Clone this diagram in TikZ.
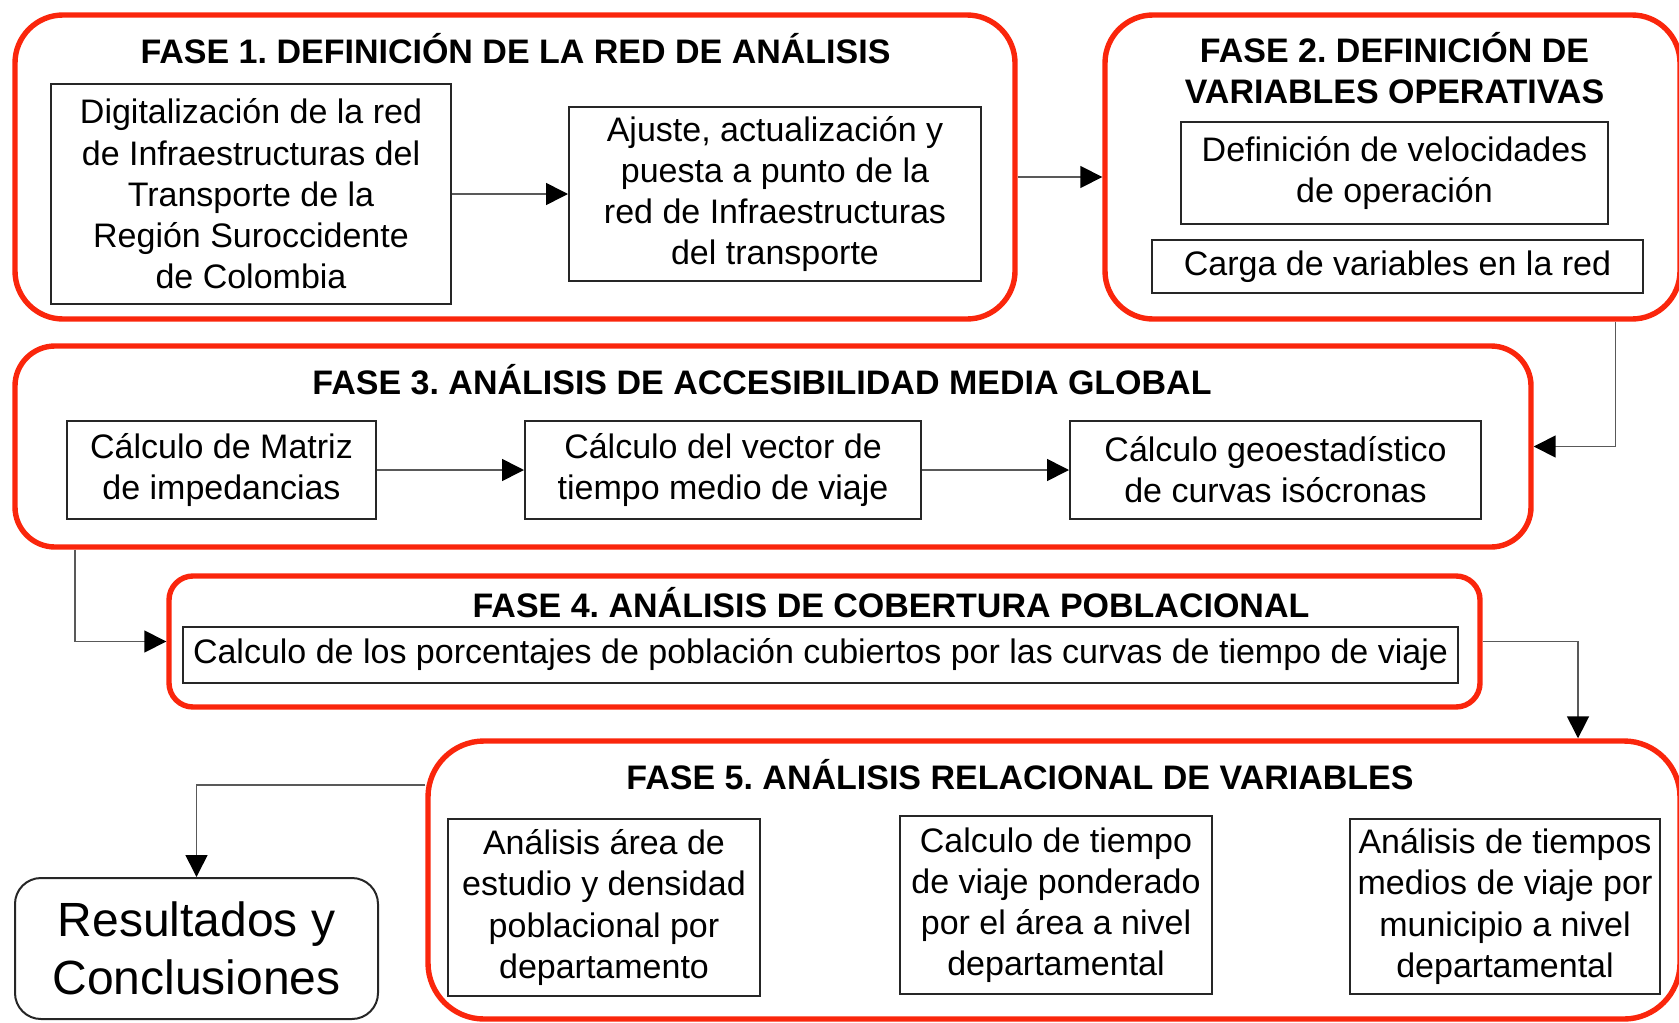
\documentclass[tikz,border=0pt]{standalone}
\usepackage{fontspec}
\setmainfont{Liberation Sans}
\usetikzlibrary{arrows.meta}
\definecolor{rojoFase}{RGB}{250,38,12}
\frenchspacing

\begin{document}
\begin{tikzpicture}[x=0.5pt, y=-0.5pt,
    fase/.style={draw=rojoFase, line width=2.7pt, inner sep=0pt},
    caja/.style={draw=black!85, line width=1pt, inner sep=0pt, align=center,
                 font=\fontsize{17}{20.6}\selectfont},
    titulo/.style={inner sep=0pt, align=center, font=\fontsize{17}{20.5}\selectfont\bfseries},
    flecha/.style={draw=black!65, line width=0.8pt,
                   -{Triangle[length=11pt,width=11pt,color=black]}}]
    \useasboundingbox (0,0) rectangle (1679,1022);
    \clip (0,0) rectangle (1679,1022);

    % Fases (contenedores rojos)
    \node[fase, rounded corners=24pt, minimum width=500pt, minimum height=152pt] (f1) at (515,167) {};
    \node[fase, rounded corners=24pt, minimum width=287.5pt, minimum height=152pt] (f2) at (1392.5,167) {};
    \node[fase, rounded corners=20pt, minimum width=758pt, minimum height=100.5pt] (f3) at (773,446.5) {};
    \node[fase, rounded corners=12pt, minimum width=655.5pt, minimum height=65.5pt] (f4) at (824.5,641.5) {};
    \node[fase, rounded corners=28pt, minimum width=626pt, minimum height=139pt] (f5) at (1054,880) {};

    % Titulos
    \node[titulo] (t1) at (515.5,49) {FASE 1. DEFINICIÓN DE LA RED DE ANÁLISIS};
    \node[titulo] (t2) at (1394.5,68.5) {FASE 2. DEFINICIÓN DE\\VARIABLES OPERATIVAS};
    \node[titulo] (t3) at (762,380) {FASE 3. ANÁLISIS DE ACCESIBILIDAD MEDIA GLOBAL};
    \node[titulo] (t4) at (891,603) {FASE 4. ANÁLISIS DE COBERTURA POBLACIONAL};
    \node[titulo] (t5) at (1020,775) {FASE 5. ANÁLISIS RELACIONAL DE VARIABLES};

    % Fase 1
    \node[caja, minimum width=200pt, minimum height=110pt] (a1) at (251,194)
        {Digitalización de la red\\de Infraestructuras del\\Transporte de la\\Región Suroccidente\\de Colombia};
    \node[caja, minimum width=206pt, minimum height=87pt] (a2) at (775,194)
        {Ajuste, actualización y\\puesta a punto de la\\red de Infraestructuras\\del transporte};

    % Fase 2
    \node[caja, minimum width=213.5pt, minimum height=51pt] (b1) at (1394.5,173)
        {Definición de velocidades\\de operación};
    \node[caja, minimum width=245.5pt, minimum height=26.5pt] (b2) at (1397.5,266.5)
        {Carga de variables en la red};

    % Fase 3
    \node[caja, minimum width=154.5pt, minimum height=49pt] (c1) at (221.5,470)
        {Cálculo de Matriz\\de impedancias};
    \node[caja, minimum width=198pt, minimum height=49pt] (c2) at (723,470)
        {Cálculo del vector de\\tiempo medio de viaje};
    \node[caja, minimum width=205.5pt, minimum height=49pt] (c3) at (1275.5,470)
        {Cálculo geoestadístico\\de curvas isócronas};

    % Fase 4
    \node[caja, minimum width=637.5pt, minimum height=28pt] (d1) at (820.5,655)
        {Calculo de los porcentajes de población cubiertos por las curvas de tiempo de viaje};

    % Fase 5
    \node[caja, minimum width=156pt, minimum height=88.5pt] (e1) at (604,907.5)
        {Análisis área de\\estudio y densidad\\poblacional por\\departamento};
    \node[caja, minimum width=156pt, minimum height=89pt] (e2) at (1056,905)
        {Calculo de tiempo\\de viaje ponderado\\por el área a nivel\\departamental};
    \node[caja, minimum width=155pt, minimum height=87.5pt] (e3) at (1505,906.5)
        {Análisis de tiempos\\medios de viaje por\\municipio a nivel\\departamental};

    % Resultados
    \node[draw=black!85, line width=1pt, rounded corners=13pt, inner sep=0pt, align=center,
          minimum width=181.5pt, minimum height=70.5pt, font=\fontsize{24}{29}\selectfont]
          (res) at (196.5,948.5) {Resultados y\\Conclusiones};

    % Flechas
    \draw[flecha] (a1) -- (a2);
    \draw[flecha] ([yshift=-5pt]f1.east) -- ([yshift=-5pt]f2.west);
    \draw[flecha] ([xshift=111.5pt]f2.south) |- (f3.east);
    \draw[flecha] (c1) -- (c2);
    \draw[flecha] (c2) -- (c3);
    \draw[flecha] ([xshift=-349pt]f3.south) |- (f4.west);
    \draw[flecha] (f4.east) -| ([xshift=262pt]f5.north);
    \draw[flecha] ([yshift=47.5pt]f5.west) -| (res.north);
\end{tikzpicture}
\end{document}
